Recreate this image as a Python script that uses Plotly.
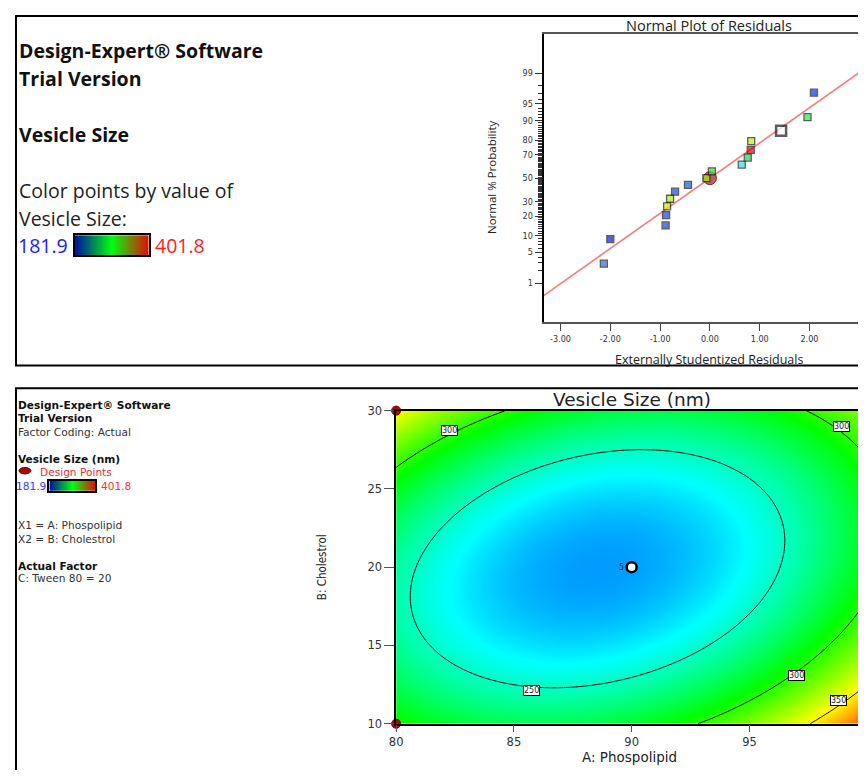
import numpy as np
import plotly.graph_objects as go
from statistics import NormalDist

# page is 866x778; the default 8px body margin is accounted for by sizing the figure 850x762
OX, OY = 8, 8
W, H = 850, 762

# ---------------- Normal plot of residuals data ----------------
residuals = [-2.13, -2.00, -0.89, -0.88, -0.86, -0.80, -0.70, -0.44, -0.07,
             0.04, 0.64, 0.76, 0.82, 0.83, 1.43, 1.96, 2.09]
normal_prob = [2.9, 8.8, 14.7, 20.6, 26.5, 32.4, 38.2, 44.1, 50.0,
               55.9, 61.8, 67.6, 73.5, 79.4, 85.3, 91.2, 97.1]
point_colors = ['#2a6ee8', '#0a22d0', '#1248e0', '#1248e8', '#c8f000', '#b4f000',
                '#1050e8', '#1060e8', '#a8f000', '#30e030', '#20e8e8', '#10e040',
                '#f00000', '#c0f000', '#ffffff', '#20f050', '#0838e0']
selected_residual = [0.0]
selected_prob = [50.0]
fit_line_x = [-3.34, 3.34]
fit_line_slope = 0.78
prob_ticks = [1, 5, 10, 20, 30, 50, 70, 80, 90, 95, 99]
prob_ticklabels = ['1', '5', '10', '20', '30', '50', '70', '80', '90', '95', '99']
prob_minor = [2, 3, 4, 6, 7, 8, 9] + [p for p in range(11, 90) if p not in prob_ticks] + [91, 92, 93, 94, 96, 97, 98]
resid_ticks = [-3, -2, -1, 0, 1, 2, 3]
resid_ticklabels = ['-3.00', '-2.00', '-1.00', '0.00', '1.00', '2.00', '3.00']
resid_axis_min = -3.34
prob_axis_z = [-3.19, 3.19]

# ---------------- Contour (response surface) data ----------------
phospholipid_range = [80, 100]
cholesterol_range = [10, 30]
coef_intercept = 216.6
coef_A = 16.5
coef_B = -2.85
coef_AB = -28.4
coef_A2 = 57.9
coef_B2 = 63.3
contour_levels = [250, 300, 350]
contour_label_text = ['300', '300', '300', '350', '250']
contour_label_A = [82.25, 98.9, 96.98, 98.8, 85.74]
contour_label_B = [28.7, 28.96, 13.1, 11.46, 12.14]
design_A = [80, 80]
design_B = [30, 10]
center_A = [90]
center_B = [20]
center_reps = 5
vs_min, vs_max = 181.9, 401.8
phos_ticks = [80, 85, 90, 95, 100]
chol_ticks = [10, 15, 20, 25, 30]

nd = NormalDist()
def pz(p):
    return nd.inv_cdf(p / 100.0)

def PX(x):
    return (x - OX) / W

def PY(y):
    return 1 - (y - OY) / H

def px_dom(p0, p1):
    return [max(PX(p0), 0.0), min(PX(p1), 1.0)]

def py_dom(p_top, p_bottom):
    return [max(PY(p_bottom), 0.0), min(PY(p_top), 1.0)]

fig = go.Figure()

# ---- normal plot ----
lx = np.array(fit_line_x)
fig.add_trace(go.Scatter(x=lx, y=fit_line_slope * lx, mode='lines',
                         line=dict(color='#f47c7c', width=1.6),
                         xaxis='x', yaxis='y', hoverinfo='skip'))
fig.add_trace(go.Scatter(x=selected_residual, y=[pz(p) for p in selected_prob], mode='markers',
                         marker=dict(symbol='circle', size=13, color='#c06060',
                                     line=dict(color='#7a2a2a', width=1)),
                         xaxis='x', yaxis='y'))
sizes = [10 if c == '#ffffff' else 7 for c in point_colors]
lws = [2.5 if c == '#ffffff' else 1.3 for c in point_colors]
fig.add_trace(go.Scatter(x=residuals, y=[pz(p) for p in normal_prob], mode='markers',
                         marker=dict(symbol='square', size=sizes, color=point_colors,
                                     line=dict(color='#1a1a1a', width=lws)),
                         xaxis='x', yaxis='y'))

# ---- contour plot ----
A = np.linspace(phospholipid_range[0], phospholipid_range[1], 201)
B = np.linspace(cholesterol_range[0], cholesterol_range[1], 201)
AA, BB = np.meshgrid(A, B)
a = (AA - 90) / 10.0
b = (BB - 20) / 10.0
Z = coef_intercept + coef_A * a + coef_B * b + coef_AB * a * b + coef_A2 * a ** 2 + coef_B2 * b ** 2
rainbow = [[0, '#0000ff'], [0.25, '#00ffff'], [0.5, '#00ff00'], [0.75, '#ffff00'], [1, '#ff0000']]
fig.add_trace(go.Heatmap(x=A, y=B, z=Z, colorscale=rainbow, zmin=vs_min, zmax=vs_max,
                         zsmooth='best', showscale=False, xaxis='x2', yaxis='y2', hoverinfo='skip'))
fig.add_trace(go.Contour(x=A, y=B, z=Z, showscale=False,
                         contours=dict(start=contour_levels[0], end=contour_levels[-1],
                                       size=contour_levels[1] - contour_levels[0], coloring='none'),
                         line=dict(color='black', width=1), xaxis='x2', yaxis='y2', hoverinfo='skip'))
fig.add_trace(go.Scatter(x=design_A, y=design_B, mode='markers', cliponaxis=False,
                         marker=dict(size=9, color='#c00000', line=dict(color='#7a0000', width=1)),
                         xaxis='x2', yaxis='y2'))
fig.add_trace(go.Scatter(x=center_A, y=center_B, mode='markers', cliponaxis=False,
                         marker=dict(size=10, color='white', line=dict(color='black', width=2.5)),
                         xaxis='x2', yaxis='y2'))

# ---- legend colour bars ----
grad = np.linspace(vs_min, vs_max, 80)
legend_scale = [[0, '#0010a0'], [0.5, '#00ff10'], [1, '#e01000']]
for xa, ya in (('x3', 'y3'), ('x4', 'y4')):
    fig.add_trace(go.Heatmap(z=[grad], colorscale=legend_scale, zmin=vs_min, zmax=vs_max,
                             showscale=False, xaxis=xa, yaxis=ya, hoverinfo='skip'))

narrow = 'Liberation Sans Narrow, Arial Narrow, DejaVu Sans Condensed, sans-serif'
segoe = 'Open Sans, Noto Sans, sans-serif'
verd = 'DejaVu Sans, Verdana, sans-serif'

hidden = dict(showticklabels=False, ticks='', showgrid=False, zeroline=False,
              showline=True, mirror=True, linecolor='black', linewidth=1.5)

# axis ranges that follow the reference pixel scale (50.2 px per residual unit, 23.75 px per % A)
np_left_px, np_right_px = 541, 866
resid_axis_max = resid_axis_min + (min(np_right_px, OX + W) - np_left_px) / 50.2
ct_left_px, ct_right_px = 392.3, 866
phos_axis_max = phospholipid_range[0] + (min(ct_right_px, OX + W) - ct_left_px) / 23.75

fig.update_layout(
    width=W, height=H, margin=dict(l=0, r=0, t=0, b=0), autosize=False,
    paper_bgcolor='white', plot_bgcolor='white', showlegend=False,
    xaxis=dict(domain=px_dom(np_left_px, np_right_px), range=[resid_axis_min, resid_axis_max], anchor='y',
               tickvals=resid_ticks, ticktext=resid_ticklabels, ticks='outside', ticklen=7,
               tickcolor='#444', tickwidth=1.2, tickfont=dict(family=narrow, size=9, color='#333'),
               showline=True, mirror=True, linecolor='#555', linewidth=2,
               showgrid=False, zeroline=False),
    yaxis=dict(domain=py_dom(27.7, 320.7), range=prob_axis_z, anchor='x',
               tickvals=[pz(p) for p in prob_ticks], ticktext=prob_ticklabels,
               ticks='outside', ticklen=7, tickcolor='#333', tickwidth=1.2,
               tickfont=dict(family=narrow, size=9, color='#333'),
               minor=dict(tickmode='array', tickvals=[pz(p) for p in prob_minor],
                          ticks='outside', ticklen=4, tickcolor='#333', tickwidth=1, showgrid=False),
               showline=True, mirror=False, linecolor='black', linewidth=2,
               showgrid=False, zeroline=False),
    xaxis2=dict(domain=px_dom(ct_left_px, ct_right_px), range=[phospholipid_range[0], phos_axis_max],
                anchor='y2', tickvals=phos_ticks, ticks='outside', ticklen=7, tickcolor='#555',
                tickfont=dict(family=verd, size=11.5, color='#333'),
                showline=True, mirror=True, linecolor='black', linewidth=1.5,
                showgrid=False, zeroline=False),
    yaxis2=dict(domain=py_dom(411, 730), range=cholesterol_range, anchor='x2',
                tickvals=chol_ticks, ticks='outside', ticklen=10, tickcolor='#555',
                tickfont=dict(family=verd, size=11.5, color='#333'),
                showline=True, mirror=False, linecolor='black', linewidth=1.5,
                showgrid=False, zeroline=False),
    xaxis3=dict(domain=px_dom(68.3, 142.7), anchor='y3', **hidden),
    yaxis3=dict(domain=py_dom(232.3, 252.7), anchor='x3', **hidden),
    xaxis4=dict(domain=px_dom(42.7, 89), anchor='y4', **hidden),
    yaxis4=dict(domain=py_dom(482.7, 492.7), anchor='x4', **hidden),
)

ann = []
def txt(s, x, y, size, color='#222', bold=False, family=segoe, xanchor='left', angle=0):
    ann.append(dict(text=f'<b>{s}</b>' if bold else s, x=PX(x), y=PY(y),
                    xref='paper', yref='paper', xanchor=xanchor, yanchor='middle',
                    showarrow=False, textangle=angle,
                    font=dict(size=size, color=color, family=family)))

# top panel text
txt('Design-Expert® Software', 10, 44, 19.5, '#111', True)
txt('Trial Version', 10, 72.7, 19.5, '#111', True)
txt('Vesicle Size', 10, 130, 19.5, '#111', True)
txt('Color points by value of', 10, 186.7, 19.5, '#222')
txt('Vesicle Size:', 10, 215, 19.5, '#222')
txt(f'{vs_min}', 9, 243.3, 19.5, '#1a1aff')
txt(f'{vs_max}', 147, 243.3, 19.5, '#ff2020')
txt('Normal Plot of Residuals', 708, 19, 14.5, '#222', xanchor='center')
txt('Normal % Probability', 489, 173, 11.5, '#222', xanchor='center', angle=-90)
txt('Externally Studentized Residuals', 708, 359, 12.5, '#222', xanchor='center')

# bottom panel text
bs = 10.6
txt('Design-Expert® Software', 9, 405.7, bs, '#111', True, verd)
txt('Trial Version', 9, 419, bs, '#111', True, verd)
txt('Factor Coding: Actual', 9, 433, bs, '#333', False, verd)
txt('Vesicle Size (nm)', 9, 460, bs, '#111', True, verd)
txt('Design Points', 31, 474, bs, '#e03030', False, verd)
txt(f'{vs_min}', 41.5, 487.7, bs, '#3a3aff', False, verd, 'right')
txt(f'{vs_max}', 93, 487.7, bs, '#ff3030', False, verd)
txt('X1 = A: Phospolipid', 9, 527.7, bs, '#333', False, verd)
txt('X2 = B: Cholestrol', 9, 542, bs, '#333', False, verd)
txt('Actual Factor', 9, 569.3, bs, '#111', True, verd)
txt('C: Tween 80 = 20', 9, 581.7, bs, '#333', False, verd)
txt('Vesicle Size (nm)', 629.7, 400, 18.5, '#222', False, verd, 'center')
txt('A: Phospolipid', 628, 763.5, 13.5, '#222', False, verd, 'center')
txt('B: Cholestrol', 317, 570, 11.5, '#222', False, narrow, 'center', -90)

# contour labels
for t, xa, yb in zip(contour_label_text, contour_label_A, contour_label_B):
    ann.append(dict(text=t, x=xa, y=yb, xref='x2', yref='y2', showarrow=False,
                    bgcolor='white', bordercolor='black', borderwidth=1, borderpad=0,
                    font=dict(size=8, color='#222', family=verd)))
ann.append(dict(text=str(center_reps), x=center_A[0], y=center_B[0], xref='x2', yref='y2',
                xshift=-10, showarrow=False, font=dict(size=8, color='#222', family=verd)))

fig.update_layout(annotations=ann)

# panel frames and legend dot
shapes = [
    dict(type='rect', xref='paper', yref='paper', x0=PX(9), x1=1.02, y0=PY(365), y1=PY(9),
         line=dict(color='black', width=2)),
    dict(type='rect', xref='paper', yref='paper', x0=PX(9), x1=1.02, y0=-0.05, y1=PY(388.3),
         line=dict(color='black', width=2)),
    dict(type='circle', xref='paper', yref='paper', x0=PX(12), x1=PX(24),
         y0=PY(475.5), y1=PY(469), fillcolor='#b00000', line=dict(color='#600000', width=1)),
]
fig.update_layout(shapes=shapes)

fig.write_html('out.html', config={'displayModeBar': False})
